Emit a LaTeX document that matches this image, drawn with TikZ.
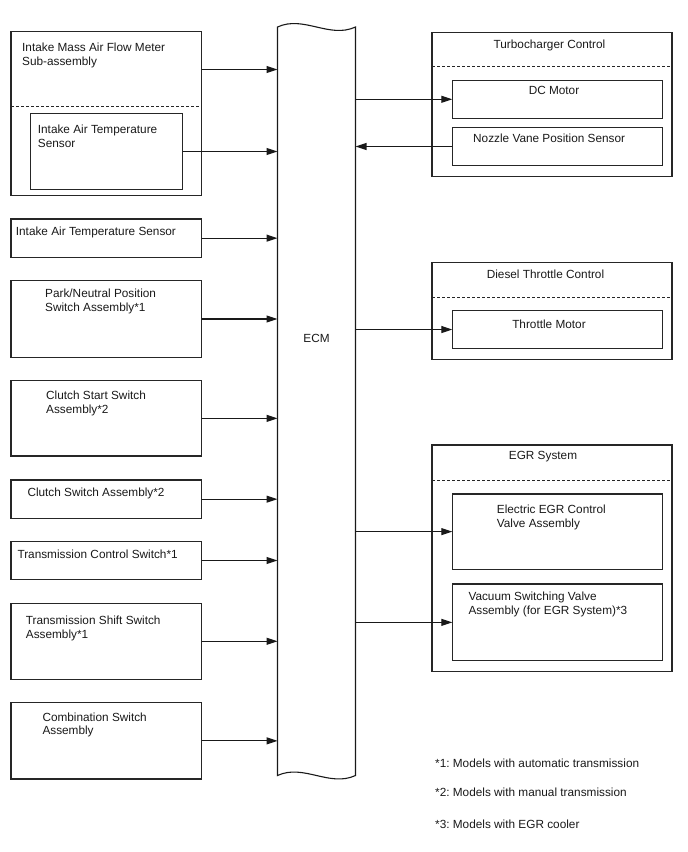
\documentclass[tikz,border=0pt]{standalone}
\usepackage{fontspec}
\setmainfont{Liberation Sans}
\frenchspacing
\usetikzlibrary{arrows.meta}
\begin{document}
\begin{tikzpicture}[x=1pt,y=-1pt,
  box/.style={draw=black!85, line width=1.1pt, anchor=north west, inner sep=0pt, outer sep=0pt},
  txt/.style={anchor=north west, inner sep=0pt, align=left, font=\fontsize{11.8}{13.8}\selectfont\frenchspacing, text=black!90},
  ctxt/.style={txt, anchor=north, align=center},
  sepline/.style={draw=black!85, line width=1pt, dash pattern=on 3pt off 2pt},
  arr/.style={draw=black!90, line width=1.1pt, -{Triangle[length=11pt,width=7pt]}}]
\useasboundingbox (0,0) rectangle (688,852);

% ECM
\node[inner sep=0pt, outer sep=0pt, anchor=north west, minimum width=78pt, minimum height=748.5pt] (ecm) at (277.5,27) {};
\draw[draw=black!90, line width=1.1pt] (ecm.north west) .. controls (303.5,15) and (329.5,39) .. (ecm.north east)
  -- (ecm.south east) .. controls (329.5,787.5) and (303.5,763.5) .. (ecm.south west) -- cycle;
\node[txt, anchor=center] (ecmlabel) at (316.5,338) {ECM};

% Left side
\node[box, minimum width=190.7pt, minimum height=164pt] (mafm) at (11,31.7) {};
\draw[sepline] (mafm.west |- 0,106.7) -- (mafm.east |- 0,106.7);
\node[txt] (mafmt) at (22,43) {Intake Mass Air Flow Meter\\Sub-assembly};
\coordinate (mafmout) at (mafm.east |- 0,69.5);
\node[box, minimum width=152.4pt, minimum height=75.6pt] (iat1) at (30.3,113.7) {};
\node[txt] (iat1t) at (37.7,124.7) {Intake Air Temperature\\Sensor};

\node[box, minimum width=190.7pt, minimum height=38.3pt] (iat2) at (11,219) {};
\node[txt] (iat2t) at (15.7,226.4) {Intake Air Temperature Sensor};

\node[box, minimum width=190.7pt, minimum height=76.6pt] (park) at (11,280.7) {};
\node[txt] (parkt) at (45,289) {Park/Neutral Position\\Switch Assembly*1};

\node[box, minimum width=190.7pt, minimum height=75.3pt] (cstart) at (11,380.7) {};
\node[txt] (cstartt) at (46,390.7) {Clutch Start Switch\\Assembly*2};

\node[box, minimum width=190.7pt, minimum height=38.3pt] (csw) at (11,480) {};
\node[txt] (cswt) at (27.3,488) {Clutch Switch Assembly*2};

\node[box, minimum width=190.7pt, minimum height=37.6pt] (tcs) at (11,541.7) {};
\node[txt] (tcst) at (17.3,550) {Transmission Control Switch*1};

\node[box, minimum width=190.7pt, minimum height=76pt] (tss) at (11,603.3) {};
\node[txt] (tsst) at (25.7,615.7) {Transmission Shift Switch\\Assembly*1};

\node[box, minimum width=190.7pt, minimum height=76.3pt] (comb) at (11,702.7) {};
\node[txt] (combt) at (42.3,712.4) {Combination Switch\\Assembly};

% Right side
\node[box, minimum width=240pt, minimum height=144.4pt] (turbo) at (432,32.3) {};
\draw[sepline] (turbo.west |- 0,66.7) -- (turbo.east |- 0,66.7);
\node[ctxt] (turbot) at (549.5,40) {Turbocharger Control};
\node[box, minimum width=210pt, minimum height=38pt] (dc) at (452.3,80.3) {};
\node[ctxt] (dct) at (554,86.4) {DC Motor};
\node[box, minimum width=210pt, minimum height=38.4pt] (nozzle) at (452.3,127.3) {};
\node[txt] (nozzlet) at (473,133.7) {Nozzle Vane Position Sensor};

\node[box, minimum width=240pt, minimum height=97pt] (diesel) at (432,262.3) {};
\draw[sepline] (diesel.west |- 0,297.3) -- (diesel.east |- 0,297.3);
\node[ctxt] (dieselt) at (545.5,270) {Diesel Throttle Control};
\node[box, minimum width=210pt, minimum height=37.6pt] (throttle) at (452.3,310.7) {};
\node[ctxt] (throttlet) at (549,320) {Throttle Motor};

\node[box, minimum width=240pt, minimum height=226.7pt] (egr) at (432,445) {};
\draw[sepline] (egr.west |- 0,480.7) -- (egr.east |- 0,480.7);
\node[ctxt] (egrt) at (543,451.4) {EGR System};
\node[box, minimum width=210pt, minimum height=75.3pt] (elec) at (452.3,494) {};
\node[txt] (elect) at (496.7,505) {Electric EGR Control\\Valve Assembly};
\node[box, minimum width=210pt, minimum height=76.7pt] (vac) at (452.3,584) {};
\node[txt] (vact) at (468.3,591.7) {Vacuum Switching Valve\\Assembly (for EGR System)*3};

% Footnotes
\node[txt] (fn1) at (435,759) {*1: Models with automatic transmission};
\node[txt] (fn2) at (435,787.4) {*2: Models with manual transmission};
\node[txt] (fn3) at (435,819.7) {*3: Models with EGR cooler};

% Connectors
\draw[arr] (mafmout) -- (mafmout -| ecm.west);
\draw[arr] (iat1.east) -- (iat1.east -| ecm.west);
\draw[arr] (iat2.east) -- (iat2.east -| ecm.west);
\draw[arr] (park.east) -- (park.east -| ecm.west);
\draw[arr] (cstart.east) -- (cstart.east -| ecm.west);
\draw[arr] (csw.east) -- (csw.east -| ecm.west);
\draw[arr] (tcs.east) -- (tcs.east -| ecm.west);
\draw[arr] (tss.east) -- (tss.east -| ecm.west);
\draw[arr] (comb.east) -- (comb.east -| ecm.west);
\draw[arr] (dc.west -| ecm.east) -- (dc.west);
\draw[arr] (nozzle.west) -- (nozzle.west -| ecm.east);
\draw[arr] (throttle.west -| ecm.east) -- (throttle.west);
\draw[arr] (elec.west -| ecm.east) -- (elec.west);
\draw[arr] (vac.west -| ecm.east) -- (vac.west);
\end{tikzpicture}
\end{document}
